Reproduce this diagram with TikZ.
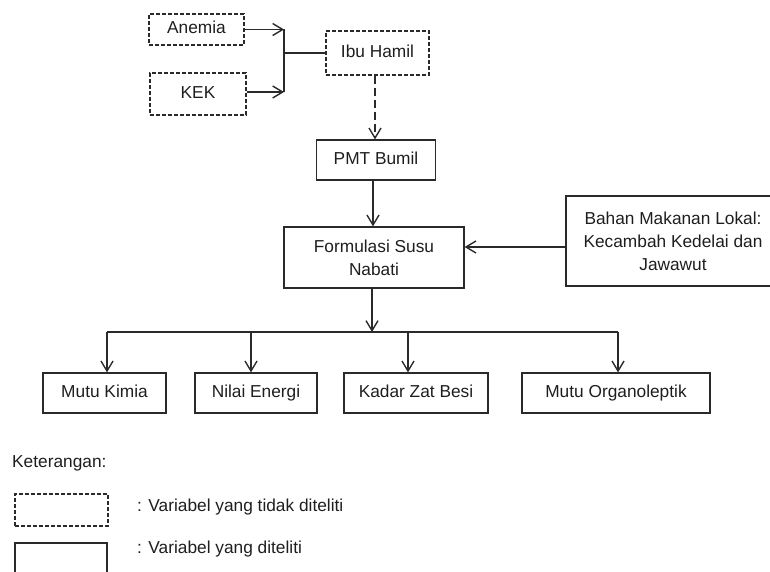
\documentclass[tikz,border=0pt]{standalone}
\usepackage{fontspec}
\setmainfont{Liberation Sans}
\usetikzlibrary{arrows.meta}
\definecolor{ln}{HTML}{2a2a2a}
\definecolor{tx}{HTML}{1e1e1e}
\begin{document}
\begin{tikzpicture}[x=1pt,y=-1pt,
  every node/.style={text=tx, font=\fontsize{17.3}{23}\selectfont},
  box/.style={draw=ln, line width=1.2pt, inner sep=0pt, align=center},
  sl/.style={text height=12.5pt, text depth=3.5pt},
  dbox/.style={box, dash pattern=on 4pt off 2pt},
  arr/.style={draw=ln, line width=1.4pt, -{Straight Barb[length=10pt,width=12pt,line width=1.4pt]}},
  ln/.style={draw=ln, line width=1.4pt}]
\useasboundingbox (0,0) rectangle (770,572);

% top
\node[dbox, sl, minimum width=95pt, minimum height=31pt] (anemia) at (196.5,29.5) {Anemia};
\node[dbox, sl, minimum width=96pt, minimum height=42pt] (kek) at (198,94) {KEK};
\node[dbox, sl, minimum width=103pt, minimum height=44pt] (ibu) at (377.5,53) {Ibu Hamil};
\node[box, sl, minimum width=119pt, minimum height=40pt] (pmt) at (376,160) {PMT Bumil};
\node[box, minimum width=180pt, minimum height=61pt] (form) at (374,257.5) {Formulasi Susu\\Nabati};
\node[box, minimum width=214pt, minimum height=90pt] (bahan) at (673,241) {Bahan Makanan Lokal:\\Kecambah Kedelai dan\\Jawawut};

\coordinate (ja) at (284,29.5);
\coordinate (jk) at (284,92);
\coordinate (jm) at (284,53);
\draw[arr] (anemia.east) -- (ja);
\draw[arr] (kek.east |- jk) -- (jk);
\draw[ln] (ja) -- (jk);
\draw[ln] (jm) -- (ibu.west);
\draw[arr, dash pattern=on 8pt off 4pt] (ibu.south -| 375,0) -- (pmt.north -| 375,0);
\draw[arr] (pmt.south -| 373,0) -- (form.north -| 373,0);
\draw[arr] ([yshift=-6pt]bahan.west) coordinate (b0) -- (b0 -| form.east);

% bottom
\node[box, sl, minimum width=123pt, minimum height=40pt] (kimia) at (104.5,393) {Mutu Kimia};
\node[box, sl, minimum width=122pt, minimum height=40pt] (energi) at (256,393) {Nilai Energi};
\node[box, sl, minimum width=144pt, minimum height=40pt] (besi) at (416,393) {Kadar Zat Besi};
\node[box, sl, minimum width=188pt, minimum height=40pt] (organo) at (616,393) {Mutu Organoleptik};

\coordinate (bk) at (107,332);
\coordinate (be) at (251,332);
\coordinate (bb) at (408,332);
\coordinate (bo) at (618,332);
\coordinate (bf) at (372,332);
\draw[arr] (form.south -| bf) -- (bf);
\draw[ln] (bk) -- (bo);
\draw[arr] (bk) -- (bk |- kimia.north);
\draw[arr] (be) -- (be |- energi.north);
\draw[arr] (bb) -- (bb |- besi.north);
\draw[arr] (bo) -- (bo |- organo.north);

% legend
\node[anchor=west, inner sep=0pt] (ket) at (12,463) {Keterangan:};
\node[dbox, minimum width=93pt, minimum height=32pt] (ld) at (61.5,510) {};
\node[box, minimum width=92pt, minimum height=40pt] (ls) at (61,563) {};
\node[anchor=west, inner sep=0pt] (t1) at (137,507) {: Variabel yang tidak diteliti};
\node[anchor=west, inner sep=0pt] (t2) at (137,549) {: Variabel yang diteliti};
\end{tikzpicture}
\end{document}
